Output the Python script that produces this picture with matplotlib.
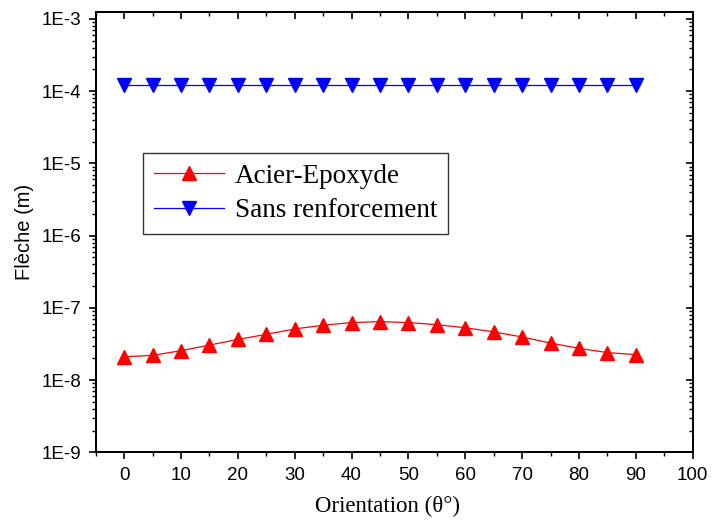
import matplotlib
matplotlib.use("Agg")
import matplotlib.pyplot as plt
from matplotlib.ticker import LogLocator, FixedLocator, MultipleLocator, NullFormatter

orientation = [0, 5, 10, 15, 20, 25, 30, 35, 40, 45, 50, 55, 60, 65, 70, 75, 80, 85, 90]
acier_epoxyde = [2.1e-8, 2.2e-8, 2.55e-8, 3.05e-8, 3.65e-8, 4.3e-8, 5.1e-8, 5.75e-8, 6.25e-8,
                 6.45e-8, 6.25e-8, 5.85e-8, 5.3e-8, 4.65e-8, 3.95e-8, 3.25e-8, 2.75e-8, 2.4e-8, 2.25e-8]
sans_renforcement = [1.2e-4] * 19
y_ticks = [1e-9, 1e-8, 1e-7, 1e-6, 1e-5, 1e-4, 1e-3]
y_ticklabels = ["1E-9", "1E-8", "1E-7", "1E-6", "1E-5", "1E-4", "1E-3"]
x_ticks = [0, 10, 20, 30, 40, 50, 60, 70, 80, 90, 100]

fig = plt.figure(figsize=(7.12, 5.23), dpi=100)
ax = fig.add_axes([0.1344, 0.1352, 0.8385, 0.8424])

ax.plot(orientation, acier_epoxyde, color="red", lw=0.9, marker="^", ms=10,
        markerfacecolor="red", markeredgecolor="red", label="Acier-Epoxyde")
ax.plot(orientation, sans_renforcement, color="blue", lw=0.9, marker="v", ms=10,
        markerfacecolor="blue", markeredgecolor="blue", label="Sans renforcement")

ax.set_yscale("log")
ax.set_ylim(1e-9, 10 ** -2.9)
ax.set_xlim(-5, 100)
ax.yaxis.set_major_locator(FixedLocator(y_ticks))
ax.set_yticklabels(y_ticklabels)
ax.yaxis.set_minor_locator(LogLocator(base=10, subs=range(2, 10), numticks=20))
ax.yaxis.set_minor_formatter(NullFormatter())
ax.xaxis.set_major_locator(FixedLocator(x_ticks))
ax.xaxis.set_minor_locator(MultipleLocator(5))

for s in ax.spines.values():
    s.set_linewidth(1.3)

ax.tick_params(axis="both", which="both", direction="out", top=False, right=False)
ax.tick_params(axis="both", which="major", length=5, width=1.2, labelsize=13.5, pad=5.5)
ax.tick_params(axis="both", which="minor", length=3, width=1.0)
for lab in ax.get_xticklabels() + ax.get_yticklabels():
    lab.set_fontfamily("Liberation Sans")

# mirrored inward ticks on top and right
axt = ax.secondary_xaxis("top")
axt.xaxis.set_major_locator(FixedLocator(x_ticks))
axt.xaxis.set_minor_locator(MultipleLocator(5))
axt.tick_params(which="both", direction="in", labeltop=False)
axt.tick_params(which="major", length=5, width=1.2)
axt.tick_params(which="minor", length=3, width=1.0)
axt.spines["top"].set_linewidth(1.3)

axr = ax.twinx()
axr.set_yscale("log")
axr.set_ylim(ax.get_ylim())
axr.yaxis.set_major_locator(FixedLocator(y_ticks))
axr.yaxis.set_minor_locator(LogLocator(base=10, subs=range(2, 10), numticks=20))
axr.yaxis.set_minor_formatter(NullFormatter())
axr.tick_params(which="both", direction="in", labelright=False)
axr.tick_params(which="major", length=5, width=1.2)
axr.tick_params(which="minor", length=3, width=1.0)
for s in axr.spines.values():
    s.set_linewidth(1.3)

ax.set_xlabel("Orientation (θ°)", fontfamily="Liberation Serif", fontsize=16.5, labelpad=11)
ax.xaxis.set_label_coords(0.488, -0.098)
ax.set_ylabel("Flèche (m)", fontfamily="Liberation Sans", fontsize=14.5, labelpad=5)

leg = ax.legend(loc="upper left", bbox_to_anchor=(0.079, 0.679), borderaxespad=0,
                prop={"family": "Liberation Serif", "size": 19.5}, frameon=True,
                fancybox=False, edgecolor="black", handlelength=2.6, handletextpad=0.4,
                borderpad=0.4, labelspacing=0.35)
leg.get_frame().set_linewidth(1.0)

fig.savefig("out.png", dpi=100)
